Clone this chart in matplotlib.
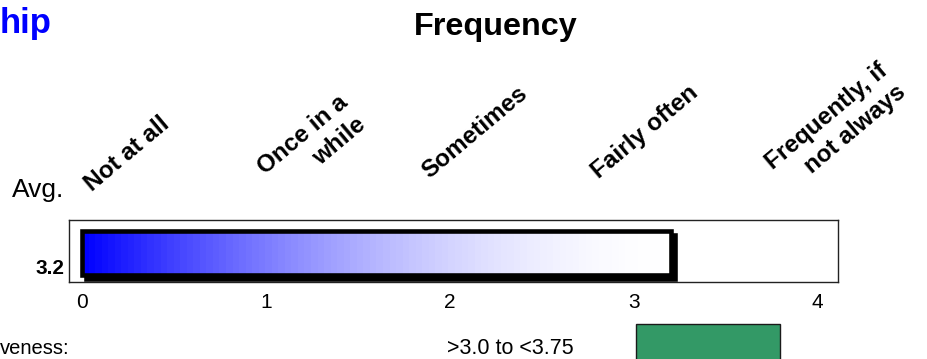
import numpy as np
import matplotlib
matplotlib.use("Agg")
import matplotlib.pyplot as plt
from matplotlib.patches import Rectangle
from matplotlib.transforms import ScaledTranslation

plt.rcParams["font.family"] = ["Liberation Sans", "DejaVu Sans"]

# ---- data ----
categories = ["Not at all", "Once in a\nwhile", "Sometimes", "Fairly often",
              "Frequently, if\nnot always"]
scale_ticks = [0, 1, 2, 3, 4]
avg_value = 3.2
avg_label = "3.2"
band_label = ">3.0 to <3.75"
band_low = 3.0
band_high = 3.75

W, H = 928, 359
fig = plt.figure(figsize=(W / 100, H / 100), dpi=100)


def fx(px):
    return px / W


def fy(py):
    return 1 - py / H


# main score axis
ax = fig.add_axes([fx(69), fy(282), fx(838) - fx(69), fy(220) - fy(282)])
ax.set_yticks([])
ax.set_xticks(scale_ticks)
ax.set_xticklabels([str(t) for t in scale_ticks], fontsize=15)
ax.tick_params(axis="x", length=0, pad=8)
for s in ax.spines.values():
    s.set_linewidth(1.0)
    s.set_color("#222222")

y0, y1 = 0.115, 0.83
# drop shadow
shadow_off = ScaledTranslation(4.5 / 100, -4.5 / 100, fig.dpi_scale_trans)
shadow = Rectangle((0, y0), avg_value, y1 - y0, facecolor="black",
                   edgecolor="black", linewidth=3.3,
                   transform=ax.transData + shadow_off, zorder=2)
ax.add_patch(shadow)

# gradient fill: blue to white
n = 90
t = np.linspace(0, 1, n)
w = 1 - (1 - t) ** 1.8
grad = np.zeros((1, n, 3))
grad[0, :, 0] = w
grad[0, :, 1] = w
grad[0, :, 2] = 1.0
img = ax.imshow(grad, extent=[0, avg_value, y0, y1], aspect="auto",
                interpolation="nearest", zorder=3)
frame = Rectangle((0, y0), avg_value, y1 - y0, facecolor="none",
                  edgecolor="black", linewidth=3.3, zorder=4)
ax.add_patch(frame)
img.set_clip_path(frame)
ax.set_xlim(-0.07, 4.11)
ax.set_ylim(0, 1)

# average value label
fig.text(fx(50), fy(268), avg_label, fontsize=15, fontweight="bold",
         ha="center", va="center")
fig.text(fx(38), fy(190), "Avg.", fontsize=19, ha="center", va="center")

# rotated category labels (multi-line ones are right-aligned)
label_centers = [(127, 154), (312, 146), (475, 132), (645, 132), (836, 127)]
for lab, (cx, cy) in zip(categories, label_centers):
    fig.text(fx(cx), fy(cy), lab, fontsize=17.5, fontweight="bold",
             rotation=40, rotation_mode="anchor", ha="center", va="center",
             multialignment="right", linespacing=1.3)

# titles
fig.text(fx(496), fy(27), "Frequency", fontsize=23.3, fontweight="bold",
         ha="center", va="center")
fig.text(fx(0), fy(23), "hip", fontsize=25, fontweight="bold",
         color="#0000ff", ha="left", va="center")

# effectiveness band
bx = fig.add_axes([fx(69), 0, fx(838) - fx(69), fy(324)])
bx.set_xlim(0.047, 4.05)
bx.set_ylim(0, 1)
bx.axis("off")
bx.add_patch(Rectangle((band_low, -0.5), band_high - band_low, 1.5,
                       facecolor="#339966", edgecolor="#1a1a1a",
                       linewidth=1.0, clip_on=False))
fig.text(fx(510), fy(349), band_label, fontsize=15.5, ha="center", va="center")
fig.text(fx(0), fy(349), "veness:", fontsize=14.5, ha="left", va="center")

fig.savefig("out.png", dpi=100)
